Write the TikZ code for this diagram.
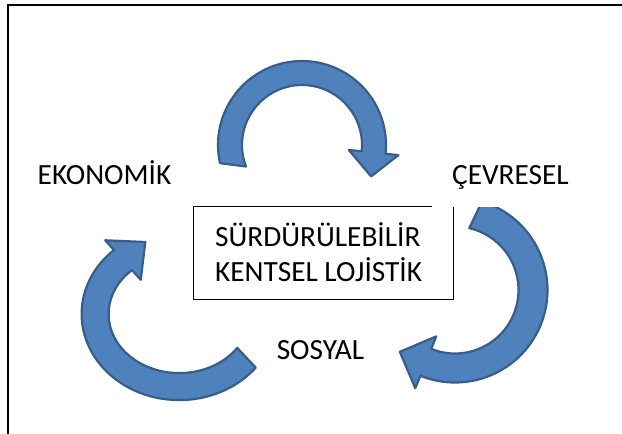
\documentclass[tikz,border=0pt]{standalone}
\usepackage{fontspec}
\setmainfont{Carlito}
\usetikzlibrary{calc}
\definecolor{arrowfill}{HTML}{4F81BD}
\definecolor{arrowline}{HTML}{385D8A}
\begin{document}
\begin{tikzpicture}[x=1pt,y=1pt,
  cyclearrow/.style={fill=arrowfill, draw=arrowline, line width=2.2pt, line join=round},
  lbl/.style={font=\fontsize{29.3}{35}\selectfont, inner sep=0pt},
  frameline/.style={line width=2pt, draw=black},
  boxline/.style={line width=1.2pt, draw=black}]
\useasboundingbox (0,0) rectangle (622,434);

% outer frame (left and top edges)
\coordinate (fbl) at (8,0);
\coordinate (ftl) at (8,429);
\coordinate (ftr) at (622,429);
\draw[frameline] (fbl) -- (ftl) -- (ftr);

% the three dimensions
\node[lbl, anchor=base] (eko) at (104.5,249) {EKONOMİK};
\node[lbl, anchor=base] (cev) at (510.5,249) {ÇEVRESEL};
\node[lbl, anchor=base] (sos) at (320.5,74) {SOSYAL};

% central box
\node[minimum width=259pt, minimum height=92pt, inner sep=0pt] (box) at (323.5,181) {};
\draw[boxline] ([xshift=-21pt]box.north east) -- (box.north west) -- (box.south west)
  -- (box.south east) -- (box.north east);
\node[lbl, anchor=base west] (t1) at (215,187.3) {SÜRDÜRÜLEBİLİR};
\node[lbl, anchor=base west] (t2) at (215,152.3) {KENTSEL LOJİSTİK};

% curved arrow: economic -> environmental
\begin{scope}[shift={(302,289)}]
  \draw[cyclearrow] (192.5:84) arc[start angle=192.5, end angle=-6, radius=84]
    -- (-6:97) -- ($(-6:72)+(-96:24)$) -- (-6:47) -- (-6:60)
    arc[start angle=-6, end angle=201, radius=60] -- cycle;
\end{scope}

% curved arrow: environmental -> social
\begin{scope}
  \clip (380,0) rectangle (622,226.5);
  \begin{scope}[shift={(455,144)}]
    \draw[cyclearrow] (73:92.5) arc[start angle=73, end angle=-112, radius=92.5]
      -- (-112:106) -- ($(-112:78)+(-202:28)$) -- (-112:50) -- (-112:63.5)
      arc[start angle=-112, end angle=77, radius=63.5] -- cycle;
  \end{scope}
\end{scope}

% curved arrow: social -> economic
\begin{scope}[shift={(179.3,120)}]
  \draw[cyclearrow] (321.5:97.7 and 86.1)
    arc[start angle=321.5, end angle=132, x radius=97.7, y radius=86.1]
    -- (132:110.8 and 99.2) -- (-34,72) -- (132:57.6 and 46) -- (132:70.7 and 59.1)
    arc[start angle=132, end angle=325, x radius=70.7, y radius=59.1] -- cycle;
\end{scope}
\end{tikzpicture}
\end{document}
